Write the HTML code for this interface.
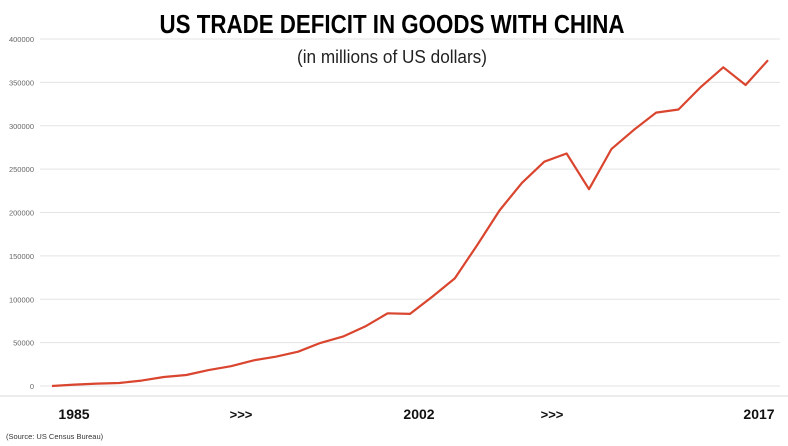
<!DOCTYPE html>
<html><head><meta charset="utf-8"><style>
body{margin:0;background:#fff;}
svg{display:block;font-family:"Liberation Sans",sans-serif;}
</style></head><body>
<svg id="chart" width="788" height="446" viewBox="0 0 788 446">
<g id="grid"></g>
<g id="yaxis"></g>
<line x1="0" y1="396" x2="788" y2="396" stroke="#d9d9d9" stroke-width="1"/>
<path id="line" fill="none" stroke="#d9452e" stroke-width="2.2" stroke-linejoin="round"/>
<text x="392" y="33" text-anchor="middle" font-size="26" font-weight="bold" textLength="465" lengthAdjust="spacingAndGlyphs" fill="#000">US TRADE DEFICIT IN GOODS WITH CHINA</text>
<text x="392" y="63" text-anchor="middle" font-size="18" textLength="190" lengthAdjust="spacingAndGlyphs" fill="#222">(in millions of US dollars)</text>
<text x="74" y="419" text-anchor="middle" font-size="14" font-weight="bold" fill="#111">1985</text>
<text x="241" y="419" text-anchor="middle" font-size="13" font-weight="bold" fill="#111">&gt;&gt;&gt;</text>
<text x="419" y="419" text-anchor="middle" font-size="14" font-weight="bold" fill="#111">2002</text>
<text x="552" y="419" text-anchor="middle" font-size="13" font-weight="bold" fill="#111">&gt;&gt;&gt;</text>
<text x="759" y="419" text-anchor="middle" font-size="14" font-weight="bold" fill="#111">2017</text>
<text x="6" y="439" font-size="7.5" fill="#333">(Source: US Census Bureau)</text>
</svg>
<script>
const years=[1985,1986,1987,1988,1989,1990,1991,1992,1993,1994,1995,1996,1997,1998,1999,2000,2001,2002,2003,2004,2005,2006,2007,2008,2009,2010,2011,2012,2013,2014,2015,2016,2017];
const deficit=[6,1665,2796,3489,6235,10431,12691,18309,22777,29505,33790,39520,49696,56927,68677,83833,83096,103065,124068,162254,202278,234101,258506,268040,226877,273042,295250,315102,318684,344818,367328,346997,375576];
const yTicks=[0,50000,100000,150000,200000,250000,300000,350000,400000];
const x=y=>52+(y-1985)*(768-52)/(2017-1985);
const yy=v=>386-v*(347/400000);
const ns="http://www.w3.org/2000/svg";
const grid=document.getElementById('grid'),ya=document.getElementById('yaxis');
yTicks.forEach(t=>{
 const l=document.createElementNS(ns,'line');
 l.setAttribute('x1',40);l.setAttribute('x2',780);
 l.setAttribute('y1',yy(t));l.setAttribute('y2',yy(t));
 l.setAttribute('stroke','#e3e3e3');l.setAttribute('stroke-width','1');
 
 
 grid.appendChild(l);
 const tx=document.createElementNS(ns,'text');
 tx.setAttribute('x',34);tx.setAttribute('y',yy(t)+3);
 tx.setAttribute('text-anchor','end');tx.setAttribute('font-size','7.5');tx.setAttribute('fill','#666');
 tx.textContent=t;
 
 
 ya.appendChild(tx);
});
document.getElementById('line').setAttribute('d',years.map((yr,i)=>(i?'L':'M')+x(yr).toFixed(1)+','+yy(deficit[i]).toFixed(1)).join(''));
</script>
</body></html>
